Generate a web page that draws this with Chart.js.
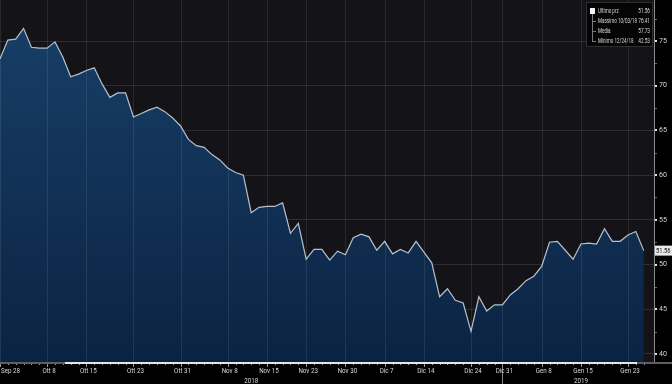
<!DOCTYPE html>
<html>
<head>
<meta charset="utf-8">
<script src="https://cdn.jsdelivr.net/npm/chart.js@4/dist/chart.umd.min.js"></script>
<style>
  html, body { margin: 0; padding: 0; background: #000; }
  #wrap { width: 672px; height: 384px; position: relative; }
</style>
</head>
<body>
<div id="wrap"><canvas id="c" width="672" height="384"></canvas></div>
<script>
// ---- data ----
const dates = [
  '9/28',
  '10/1','10/2','10/3','10/4','10/5','10/8','10/9','10/10','10/11','10/12',
  '10/15','10/16','10/17','10/18','10/19','10/22','10/23','10/24','10/25','10/26',
  '10/29','10/30','10/31',
  '11/1','11/2','11/5','11/6','11/7','11/8','11/9','11/12','11/13','11/14',
  '11/15','11/16','11/19','11/20','11/21','11/23','11/26','11/27','11/28','11/29','11/30',
  '12/3','12/4','12/5','12/6','12/7','12/10','12/11','12/12','12/13','12/14',
  '12/17','12/18','12/19','12/20','12/21','12/24','12/26','12/27','12/28','12/31',
  '1/2','1/3','1/4','1/7','1/8','1/9','1/10','1/11','1/14','1/15',
  '1/16','1/17','1/18','1/21','1/22','1/23','1/24','1/25'
];
const prices = [
  73.0, 75.1, 75.2, 76.41, 74.3, 74.2, 74.2, 74.9, 73.2, 71.0,
  71.3, 71.7, 72.0, 70.2, 68.7, 69.2, 69.2, 66.5, 66.9, 67.3,
  67.6, 67.1, 66.4, 65.5, 64.0, 63.3, 63.1, 62.3, 61.7, 60.8,
  60.3, 60.0, 55.8, 56.4, 56.5, 56.5, 56.9, 53.5, 54.6, 50.6,
  51.7, 51.7, 50.5, 51.5, 51.1, 53.0, 53.4, 53.1, 51.6, 52.6,
  51.2, 51.7, 51.3, 52.6, 51.4, 50.2, 46.4, 47.3, 46.0, 45.7,
  42.53, 46.4, 44.8, 45.5, 45.5, 46.6, 47.3, 48.2, 48.7, 49.8,
  52.5, 52.6, 51.6, 50.6, 52.3, 52.4, 52.3, 54.0, 52.6, 52.6,
  53.3, 53.7, 51.56
];
const tickDates  = ['9/28','10/8','10/15','10/23','10/31','11/8','11/15','11/23','11/30','12/7','12/14','12/24','12/31','1/8','1/15','1/23'];
const tickLabels = ['Sep 28','Ott 8','Ott 15','Ott 23','Ott 31','Nov 8','Nov 15','Nov 23','Nov 30','Dic 7','Dic 14','Dic 24','Dic 31','Gen 8','Gen 15','Gen 23'];
const yearLabels = ['2018','2019'];
const yearDates  = ['11/13','1/15'];
const yearBreakDate = '12/31';
const yTicks = [40, 45, 50, 55, 60, 65, 70, 75];
const legendNames  = ['Ultimo prz','Massimo 10/03/18','Media','Minimo 12/24/18'];
const legendValues = ['51.56','76.41','57.73','42.53'];
const lastPrice = 51.56;

// ---- chart ----
const FONT = "'Liberation Sans Narrow', 'Roboto', 'DejaVu Sans', sans-serif";
const points = prices.map((v, i) => ({ x: i, y: v }));
const tickIdx = tickDates.map(d => dates.indexOf(d));

// draw horizontally condensed text
function cText(ctx, t, x, y, align, sx) {
  sx = sx || 0.78;
  const w = ctx.measureText(t).width * sx;
  let left = x;
  if (align === 'center') left = x - w / 2;
  else if (align === 'right') left = x - w;
  ctx.save();
  ctx.textAlign = 'left';
  ctx.translate(left, y);
  ctx.scale(sx, 1);
  ctx.fillText(t, 0, 0);
  ctx.restore();
  return w;
}

const bgPlugin = {
  id: 'bg',
  beforeDraw(chart) {
    const { ctx, chartArea: a } = chart;
    ctx.save();
    ctx.fillStyle = '#000';
    ctx.fillRect(0, 0, chart.width, chart.height);
    ctx.fillStyle = '#141418';
    ctx.fillRect(a.left, a.top, a.right - a.left, a.bottom - a.top);
    ctx.restore();
  }
};

const decoPlugin = {
  id: 'deco',
  afterDraw(chart) {
    const { ctx, chartArea: a } = chart;
    const xs = chart.scales.x, ys = chart.scales.y;
    ctx.save();
    // vertical grid lines on top of fill
    ctx.strokeStyle = 'rgba(255,255,255,0.09)';
    ctx.lineWidth = 1;
    tickIdx.forEach(i => {
      const px = Math.round(xs.getPixelForValue(i)) + 0.5;
      ctx.beginPath(); ctx.moveTo(px, a.top); ctx.lineTo(px, a.bottom); ctx.stroke();
    });
    // x axis bar
    ctx.fillStyle = '#5e5e62';
    ctx.fillRect(0, a.bottom, chart.width, 2);
    ctx.fillStyle = '#e6e6e6';
    ctx.fillRect(65, a.bottom, 572, 2);
    // minor ticks
    ctx.strokeStyle = '#9a9a9a';
    dates.forEach((d, i) => {
      const px = Math.round(xs.getPixelForValue(i)) + 0.5;
      const major = tickIdx.includes(i);
      ctx.beginPath(); ctx.moveTo(px, a.bottom + 2); ctx.lineTo(px, a.bottom + (major ? 5 : 3)); ctx.stroke();
    });
    // year break line
    const bx = Math.round(xs.getPixelForValue(dates.indexOf(yearBreakDate))) + 0.5;
    ctx.strokeStyle = '#8a8a8a';
    ctx.beginPath(); ctx.moveTo(bx, a.bottom + 2); ctx.lineTo(bx, chart.height); ctx.stroke();
    // x labels
    ctx.fillStyle = '#d6d6d6';
    ctx.font = '8px ' + FONT;
    ctx.textBaseline = 'middle';
    tickIdx.forEach((i, k) => {
      const px = xs.getPixelForValue(i) + 2;
      const w = ctx.measureText(tickLabels[k]).width * 0.78;
      const left = Math.max(1, px - w / 2);
      cText(ctx, tickLabels[k], left, a.bottom + 9, 'left');
    });
    yearLabels.forEach((y, k) => {
      const px = xs.getPixelForValue(dates.indexOf(yearDates[k]));
      cText(ctx, y, px, a.bottom + 19, 'center');
    });
    // y axis tick marks
    ctx.fillStyle = '#e0e0e0';
    yTicks.forEach(v => {
      const py = Math.round(ys.getPixelForValue(v));
      ctx.fillRect(a.right + 1, py - 1, 2, 2);
    });
    ctx.fillStyle = '#6a6a6a';
    yTicks.forEach(v => {
      const py = Math.round(ys.getPixelForValue(v + 2.5));
      if (py > a.top) ctx.fillRect(a.right + 1, py, 2, 1);
    });
    // last price tag
    const ly = ys.getPixelForValue(lastPrice);
    ctx.fillStyle = '#e8e8e8';
    ctx.fillRect(a.right + 1, ly - 5, 17, 10);
    ctx.fillStyle = '#111';
    ctx.font = '8px ' + FONT;
    cText(ctx, lastPrice.toFixed(2), a.right + 2, ly, 'left', 0.72);
    // legend box
    const bxl = 586, byt = 2, bw = 67, bh = 45;
    ctx.fillStyle = '#050506';
    ctx.fillRect(bxl, byt, bw, bh);
    ctx.strokeStyle = '#2e2e32';
    ctx.strokeRect(bxl + 0.5, byt + 0.5, bw - 1, bh - 1);
    ctx.strokeStyle = '#7a7a7a';
    ctx.beginPath(); ctx.moveTo(592.5, 14); ctx.lineTo(592.5, 41); ctx.stroke();
    ctx.font = '6.5px ' + FONT;
    legendNames.forEach((n, k) => {
      const ry = 11 + k * 10;
      if (k === 0) {
        ctx.fillStyle = '#f2f2f2';
        ctx.fillRect(590, ry - 3, 5, 6);
      } else {
        ctx.strokeStyle = '#7a7a7a';
        ctx.beginPath(); ctx.moveTo(592, ry + 0.5); ctx.lineTo(596, ry + 0.5); ctx.stroke();
      }
      ctx.fillStyle = '#d8d8d8';
      cText(ctx, n, 598, ry, 'left', 0.7);
      cText(ctx, legendValues[k], 650, ry, 'right', 0.72);
    });
    ctx.restore();
  }
};

const ctx = document.getElementById('c').getContext('2d');
new Chart(ctx, {
  type: 'line',
  data: {
    labels: dates,
    datasets: [{
      data: points,
      borderColor: '#b7c1cd',
      borderWidth: 1.2,
      pointRadius: 0,
      tension: 0,
      fill: 'start',
      backgroundColor: (c) => {
        const a = c.chart.chartArea;
        if (!a) return '#123254';
        const g = c.chart.ctx.createLinearGradient(0, a.top, 0, a.bottom);
        g.addColorStop(0, '#18406a');
        g.addColorStop(1, '#0b2342');
        return g;
      }
    }]
  },
  options: {
    responsive: false,
    animation: false,
    layout: { padding: 0 },
    plugins: { legend: { display: false }, tooltip: { enabled: false } },
    scales: {
      x: {
        type: 'linear',
        min: 0,
        max: 83.31,
        grid: { display: false, drawTicks: false },
        border: { display: false },
        ticks: { display: false },
        afterFit(s) { s.height = 22; s.paddingLeft = 0; s.paddingRight = 0; }
      },
      y: {
        position: 'right',
        min: 39.105,
        max: 79.585,
        z: 1,
        afterBuildTicks(s) { s.ticks = yTicks.map(v => ({ value: v })); },
        grid: { color: 'rgba(255,255,255,0.11)', drawTicks: false },
        border: { display: true, color: '#8c8c8c', width: 1 },
        ticks: {
          color: '#d8d8d8',
          font: { size: 7, family: FONT },
          padding: 5,
          callback: (v) => String(v)
        },
        afterFit(s) { s.width = 18; s.paddingTop = 0; s.paddingBottom = 0; }
      }
    }
  },
  plugins: [bgPlugin, decoPlugin]
});
</script>
</body>
</html>
